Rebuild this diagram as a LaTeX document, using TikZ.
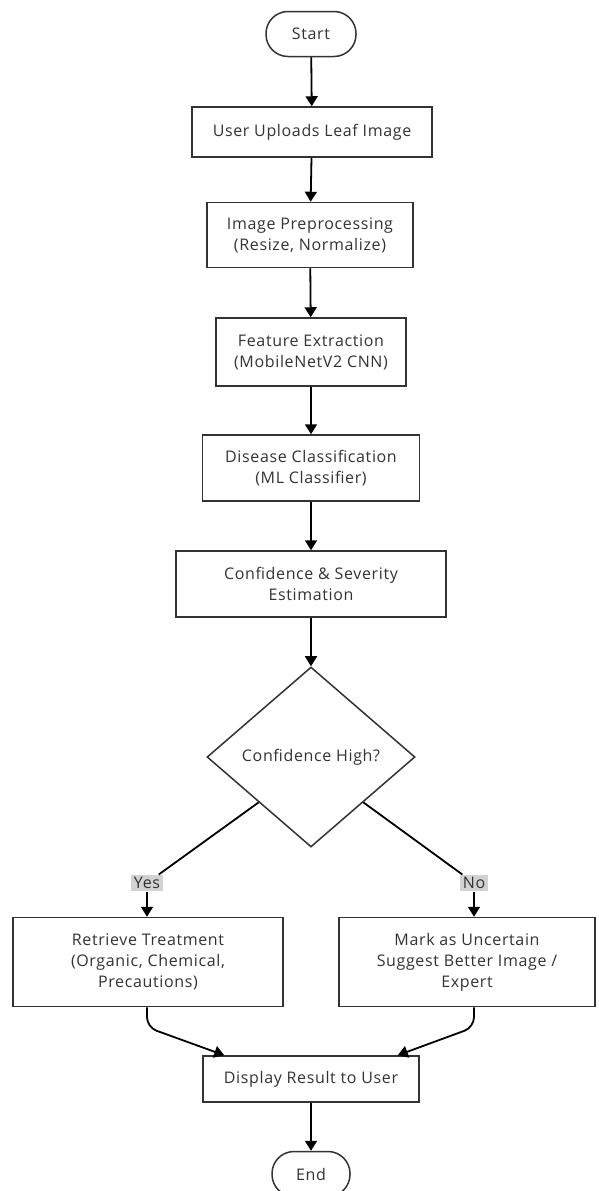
\documentclass[tikz,border=0pt]{standalone}
\usepackage{fontspec}
\setmainfont{Open Sans}[LetterSpace=4]
\usepackage{tikz}
\usetikzlibrary{positioning,arrows.meta,shapes.geometric,calc}
\definecolor{inkgray}{RGB}{51,51,51}
\definecolor{tagbg}{RGB}{210,210,210}

\begin{document}
\begin{tikzpicture}[x=1pt,y=-1pt,
  proc/.style={rectangle,draw=inkgray,line width=1.5pt,fill=white,text=inkgray,
               font=\fontsize{16}{21}\selectfont,align=center,inner sep=0pt},
  term/.style={proc,rounded corners=22pt,minimum height=45pt},
  ask/.style={diamond,draw=inkgray,line width=1.5pt,fill=white,text=inkgray,
              font=\fontsize{16}{21}\selectfont,inner sep=0pt,
              minimum width=208pt,minimum height=180pt},
  tag/.style={fill=tagbg,text=inkgray,font=\fontsize{16}{18}\selectfont,inner sep=2.5pt},
  arr/.style={-{Triangle[width=12pt,length=10pt]},black,line width=1.8pt}
]
\useasboundingbox (0,0) rectangle (598,1191);
\node[term,minimum width=90pt] (start) at (311,34) {Start};
\node[proc,minimum width=240pt,minimum height=50pt] (upload) at (312,132) {User Uploads Leaf Image};
\node[proc,minimum width=206pt,minimum height=65pt] (prep) at (310,235) {Image Preprocessing\\(Resize, Normalize)};
\node[proc,minimum width=190pt,minimum height=68pt] (feat) at (311,352) {Feature Extraction\\(MobileNetV2 CNN)};
\node[proc,minimum width=217pt,minimum height=66pt] (cls) at (311,468) {Disease Classification\\(ML Classifier)};
\node[proc,minimum width=270pt,minimum height=66pt] (conf) at (311,584) {Confidence \& Severity\\Estimation};
\node[ask] (dec) at (311,757) {Confidence High?};
\node[tag] (yes) at (147,883) {Yes};
\node[tag] (no) at (474,883) {No};
\node[proc,minimum width=270pt,minimum height=89pt] (treat) at (148,962) {Retrieve Treatment\\(Organic, Chemical,\\Precautions)};
\node[proc,minimum width=256pt,minimum height=89pt] (unc) at (467,962) {Mark as Uncertain\\Suggest Better Image /\\Expert};
\node[proc,minimum width=216pt,minimum height=46pt] (disp) at (311,1079) {Display Result to User};
\node[term,minimum width=78pt,rounded corners=22pt] (fin) at (311,1174) {End};
\draw[arr] (start) -- (upload);
\draw[arr] (upload) -- (prep);
\draw[arr] (prep) -- (feat);
\draw[arr] (feat) -- (cls);
\draw[arr] (cls) -- (conf);
\draw[arr] (conf) -- (dec);
\draw[black,line width=1.8pt] (dec.south west) -- (yes);
\draw[black,line width=1.8pt] (dec.south east) -- (no);
\draw[arr] (yes) -- (yes |- treat.north);
\draw[arr] (no) -- (no |- unc.north);
\draw[arr,rounded corners=10pt] (treat.south -| yes) -- ++(0,20) -- ([xshift=22pt]disp.north west);
\draw[arr,rounded corners=10pt] (unc.south -| no) -- ++(0,20) -- ([xshift=-22pt]disp.north east);
\draw[arr] (disp) -- (fin);
\end{tikzpicture}
\end{document}
